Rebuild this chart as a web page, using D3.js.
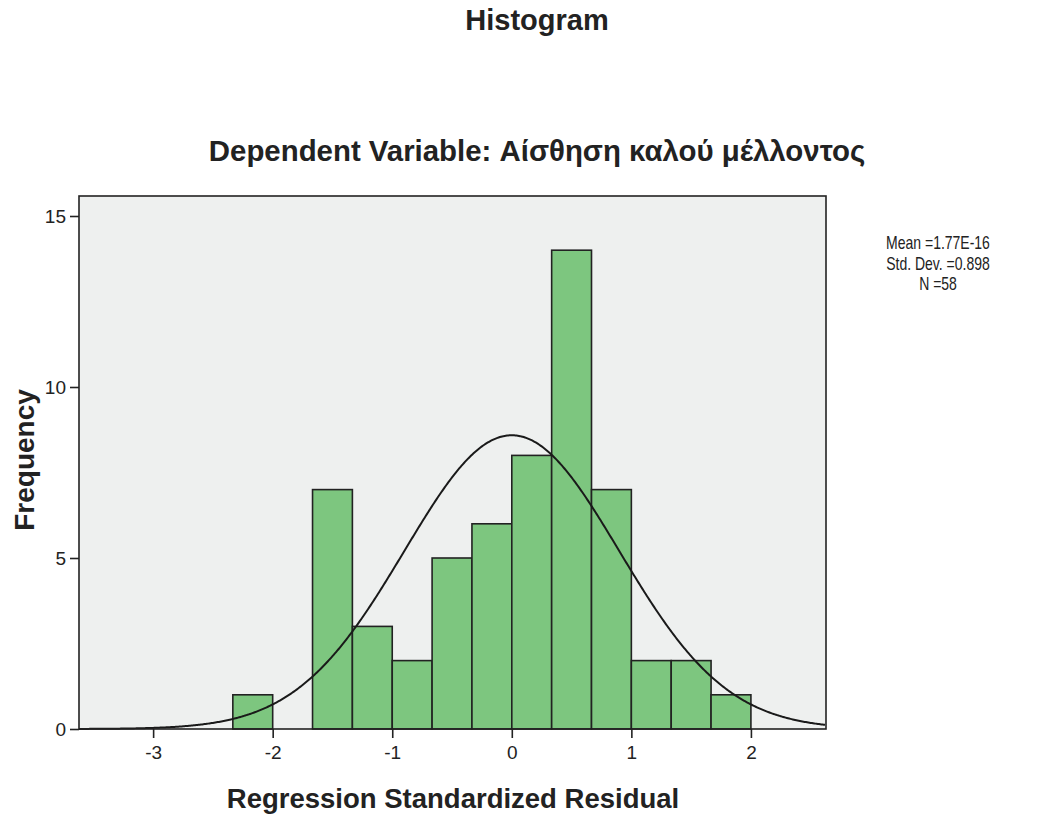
<!DOCTYPE html>
<html>
<head>
<meta charset="utf-8">
<script src="https://cdn.jsdelivr.net/npm/d3@7"></script>
<style>
  html, body { margin: 0; padding: 0; background: #fff; }
  svg { display: block; font-family: "Liberation Sans", Arial, sans-serif; }
</style>
</head>
<body>
<svg id="chart" width="1037" height="816"></svg>
<script>
// Histogram bins of standardized residuals (width 1/3)
const binStarts = [-7/3, -2, -5/3, -4/3, -1, -2/3, -1/3, 0, 1/3, 2/3, 1, 4/3, 5/3];
const binCounts = [1, 0, 7, 3, 2, 5, 6, 8, 14, 7, 2, 2, 1];
const binWidth = 1/3;
const xTicks = [-3, -2, -1, 0, 1, 2];
const yTicks = [0, 5, 10, 15];
const statLines = ["Mean =1.77E-16", "Std. Dev. =0.898", "N =58"];
const mean = 1.77e-16, sd = 0.898, n = 58;

const FONT = '"Liberation Sans", Arial, sans-serif';
const svg = d3.select("#chart");
const plot = { left: 79, right: 826, top: 196, bottom: 729 };

const x = d3.scaleLinear().domain([-3.62, 2.628]).range([plot.left, plot.right]);
const y = d3.scaleLinear().domain([0, 15]).range([plot.bottom, 216]);

// plot background
svg.append("rect")
  .attr("x", plot.left).attr("y", plot.top)
  .attr("width", plot.right - plot.left).attr("height", plot.bottom - plot.top)
  .attr("fill", "#eef0ef");

// bars
svg.append("g").selectAll("rect")
  .data(binStarts.map((s, i) => ({ s, c: binCounts[i] })).filter(d => d.c > 0))
  .join("rect")
  .attr("x", d => x(d.s))
  .attr("y", d => y(d.c))
  .attr("width", d => x(d.s + binWidth) - x(d.s))
  .attr("height", d => y(0) - y(d.c))
  .attr("fill", "#7dc67f")
  .attr("stroke", "#222")
  .attr("stroke-width", 1.6);

// normal curve scaled to counts
const pdf = v => Math.exp(-0.5 * ((v - mean) / sd) ** 2) / (sd * Math.sqrt(2 * Math.PI));
const curvePts = d3.range(x.domain()[0], x.domain()[1] + 0.001, 0.01).map(v => [v, n * binWidth * pdf(v)]);
svg.append("path")
  .datum(curvePts)
  .attr("fill", "none")
  .attr("stroke", "#1a1a1a")
  .attr("stroke-width", 2)
  .attr("d", d3.line().x(d => x(d[0])).y(d => y(d[1])));

// frame
svg.append("rect")
  .attr("x", plot.left).attr("y", plot.top)
  .attr("width", plot.right - plot.left).attr("height", plot.bottom - plot.top)
  .attr("fill", "none").attr("stroke", "#222").attr("stroke-width", 1.6);

// axes
const xAxis = svg.append("g")
  .attr("transform", `translate(0,${plot.bottom})`)
  .call(d3.axisBottom(x).tickValues(xTicks).tickSize(9).tickPadding(8).tickFormat(d => String(d)));
const yAxis = svg.append("g")
  .attr("transform", `translate(${plot.left},0)`)
  .call(d3.axisLeft(y).tickValues(yTicks).tickSize(9).tickPadding(4).tickFormat(d => String(d)));
[xAxis, yAxis].forEach(g => {
  g.attr("font-size", null).attr("font-family", null);
  g.select(".domain").remove();
  g.selectAll(".tick line").attr("stroke", "#222").attr("stroke-width", 1.6);
  g.selectAll(".tick text").attr("fill", "#222").style("font-size", "19px")
    .style("font-family", FONT);
});

// titles
function title(txt, xPos, yPos, size, rotate) {
  svg.append("text")
    .attr("transform", `translate(${xPos},${yPos})` + (rotate ? " rotate(-90)" : ""))
    .attr("text-anchor", "middle")
    .style("font-family", FONT)
    .style("font-size", size + "px").style("font-weight", "bold").attr("fill", "#222")
    .text(txt);
}
title("Histogram", 537, 30, 29);
title("Dependent Variable: Αίσθηση καλού μέλλοντος", 537, 161, 29.4);
title("Regression Standardized Residual", 453, 808, 27.5);
title("Frequency", 34, 460, 28, true);

// summary statistics (slightly condensed type)
svg.append("g")
  .attr("transform", "translate(938,0) scale(0.8,1)")
  .selectAll("text")
  .data(statLines)
  .join("text")
  .attr("x", 0).attr("y", (d, i) => 249.5 + i * 20.5)
  .attr("text-anchor", "middle")
  .style("font-family", FONT)
  .style("font-size", "17.5px").attr("fill", "#222")
  .text(d => d);
</script>
</body>
</html>
